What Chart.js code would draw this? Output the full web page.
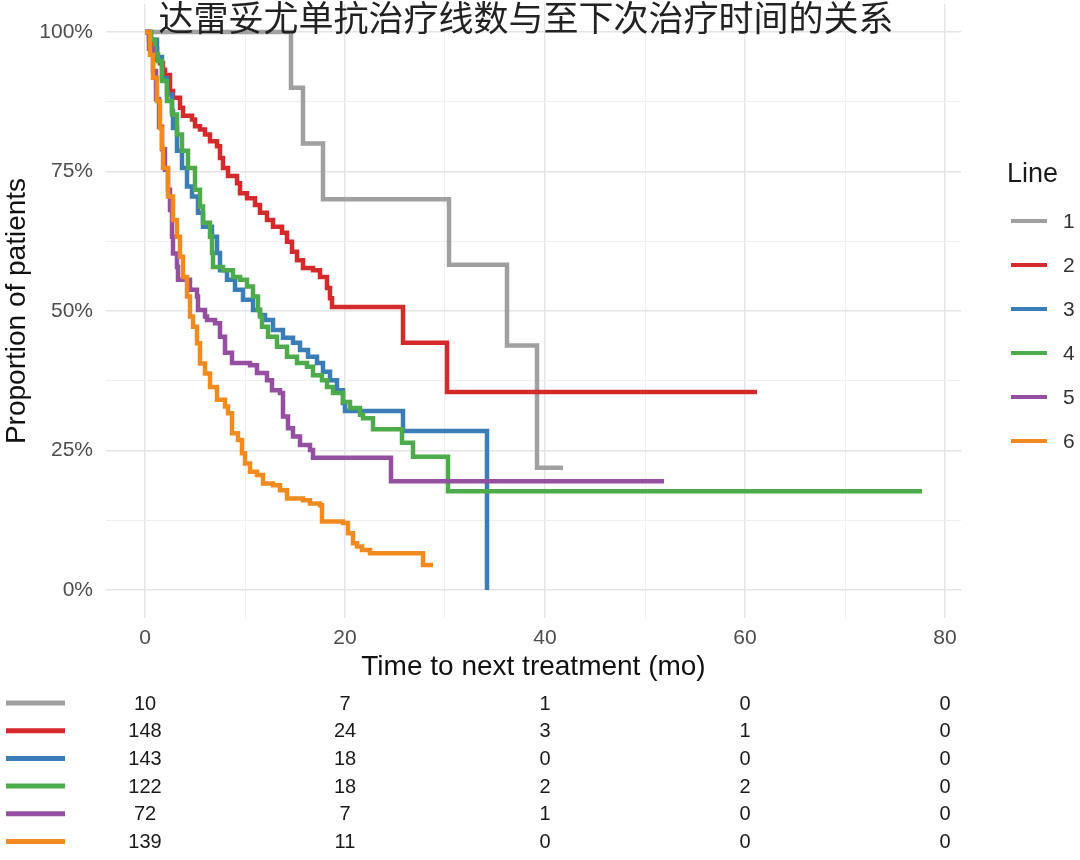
<!DOCTYPE html>
<html>
<head>
<meta charset="utf-8">
<script src="https://cdn.jsdelivr.net/npm/chart.js@4/dist/chart.umd.min.js"></script>
<style>
  html, body { margin: 0; padding: 0; background: #fff; }
  #wrap { width: 1080px; height: 860px; }
</style>
</head>
<body>
<div id="wrap"><canvas id="km" width="1080" height="860"></canvas></div>
<script>
// Kaplan-Meier curves: time (mo) and proportion (%)
const line1Time = [0, 14.6, 15.8, 17.8, 30.4, 36.2, 39.2, 41.8];
const line1Surv = [100, 90, 80, 70, 58.3, 43.8, 21.9, 21.9];

const line2Time = [0, 0.4, 0.8, 1.2, 1.5, 1.8, 2.0, 2.5, 2.8, 3.5, 3.8, 4.7, 5.0, 5.5, 6.0, 6.5, 7.2, 7.5, 7.8, 8.3, 9.2, 9.5, 10.2, 11.0, 11.5, 12.2, 12.8, 13.7, 14.2, 14.7, 15.2, 15.8, 16.8, 17.5, 18.2, 18.5, 18.7, 25.8, 30.2, 61.2];
const line2Surv = [100, 98.6, 97, 95, 94.4, 93.2, 92.3, 89.4, 88.2, 86.4, 85, 84.3, 83.1, 82.5, 81.6, 80.4, 79.5, 77.4, 75.6, 74.2, 72.9, 71.1, 70.2, 69, 67.6, 66.3, 65.1, 64, 62.4, 60.6, 59.1, 57.7, 57.3, 56.1, 54.1, 52.3, 50.7, 44.3, 35.5, 35.5];

const line3Time = [0, 0.6, 1.2, 1.7, 2.2, 2.7, 2.8, 3.2, 3.7, 4.2, 4.7, 5.3, 5.8, 6.7, 7.2, 7.5, 8.2, 9.0, 9.8, 10.8, 11.5, 12.0, 12.8, 13.8, 14.8, 15.5, 16.3, 17.2, 17.8, 18.5, 19.2, 19.8, 20.0, 25.8, 34.2];
const line3Surv = [100, 98.6, 95.5, 91.7, 88.8, 85.8, 82.8, 78.7, 75.6, 72.3, 70.5, 67.6, 65.1, 63.3, 60.4, 57.3, 55.6, 53.8, 52.0, 50.2, 49.3, 48.4, 46.6, 45.2, 44.3, 43.0, 41.8, 40.7, 39.1, 37.6, 35.8, 33.5, 32.1, 28.5, 0];

const line4Time = [0, 0.6, 1.0, 1.3, 1.7, 2.2, 2.7, 3.2, 3.7, 4.3, 5.0, 5.5, 5.8, 6.5, 6.7, 6.8, 7.8, 8.8, 9.5, 10.2, 10.8, 11.3, 11.5, 11.7, 12.3, 13.2, 14.2, 15.2, 16.2, 16.8, 17.7, 18.2, 18.8, 19.8, 20.5, 21.5, 21.8, 22.8, 25.7, 26.8, 30.3, 77.7];
const line4Surv = [100, 98.6, 96, 94.8, 91.2, 87.6, 85.2, 81.6, 78.7, 75.6, 71.7, 68.7, 65.8, 63.3, 60.4, 57.9, 57.3, 56.1, 55.6, 54.4, 52.6, 50.2, 49.0, 47.2, 45.4, 43.6, 41.8, 40.7, 40.0, 38.5, 37.6, 36.4, 35.3, 33.7, 32.6, 31.4, 30.8, 28.8, 26.4, 23.9, 17.7, 17.7];

const line5Time = [0, 0.4, 0.8, 1.1, 1.4, 1.7, 2.0, 2.3, 2.5, 2.7, 2.8, 3.2, 3.3, 4.5, 5.2, 5.3, 6.0, 6.2, 7.0, 7.5, 8.0, 8.7, 10.5, 11.2, 12.2, 12.7, 13.5, 13.8, 14.3, 14.8, 15.5, 16.5, 16.8, 24.6, 51.9];
const line5Surv = [100, 97, 93, 88, 83, 79, 75.3, 71.7, 68.1, 63.3, 60.3, 57.9, 55.6, 53.8, 52.6, 50.2, 49.0, 48.4, 47.8, 45.4, 42.5, 40.7, 40.3, 38.9, 37.6, 35.8, 35.3, 31.1, 29.0, 27.5, 26.0, 25.1, 23.7, 19.5, 19.5];

const line6Time = [0, 0.5, 0.8, 1.2, 1.5, 1.7, 1.8, 2.3, 2.8, 3.2, 3.5, 3.8, 4.2, 4.5, 4.8, 5.2, 5.5, 6.0, 6.5, 7.2, 8.0, 8.3, 8.7, 9.3, 9.7, 10.0, 10.5, 11.2, 11.8, 12.8, 13.5, 14.2, 15.8, 16.5, 17.5, 17.7, 19.8, 20.3, 20.8, 21.2, 21.7, 22.5, 27.8, 28.8];
const line6Surv = [100, 95.9, 91.8, 87.6, 82.8, 79.2, 75.6, 70.5, 66.3, 63.3, 59.7, 56.1, 52.6, 49.0, 47.2, 44.2, 40.6, 38.8, 36.4, 34.1, 32.9, 31.7, 28.1, 26.9, 24.5, 22.7, 21.2, 20.6, 19.1, 18.8, 17.9, 16.4, 16.1, 15.5, 15.2, 12.3, 12.0, 10.2, 8.4, 7.8, 7.2, 6.6, 4.5, 4.5];

const lineNames = ['1', '2', '3', '4', '5', '6'];
const lineColors = ['#A0A0A0', '#D42A2C', '#3B7DB6', '#4EAB4B', '#944FA0', '#F28B1F'];

// number at risk table
const riskTimes = [0, 20, 40, 60, 80];
const risk1 = [10, 7, 1, 0, 0];
const risk2 = [148, 24, 3, 1, 0];
const risk3 = [143, 18, 0, 0, 0];
const risk4 = [122, 18, 2, 2, 0];
const risk5 = [72, 7, 1, 0, 0];
const risk6 = [139, 11, 0, 0, 0];

const xGridValues = [0, 10, 20, 30, 40, 50, 60, 70, 80];
const yGridValues = [0, 12.5, 25, 37.5, 50, 62.5, 75, 87.5, 100];

const titleText = '达雷妥尤单抗治疗线数与至下次治疗时间的关系';

const times = [line1Time, line2Time, line3Time, line4Time, line5Time, line6Time];
const survs = [line1Surv, line2Surv, line3Surv, line4Surv, line5Surv, line6Surv];
const risks = [risk1, risk2, risk3, risk4, risk5, risk6];

const datasets = lineNames.map((name, i) => ({
    label: name,
    data: times[i].map((t, k) => ({ x: t, y: survs[i][k] })),
    borderColor: lineColors[i],
    backgroundColor: lineColors[i],
    borderWidth: 4.5,
    stepped: true,
    pointRadius: 0,
    fill: false,
    order: lineNames.length - i
}));

const sans = '"Liberation Sans", Arial, sans-serif';

// title, legend and risk table
const extras = {
    id: 'extras',
    afterDraw(chart) {
        const ctx = chart.ctx;
        const xs = chart.scales.x;
        ctx.save();

        ctx.fillStyle = '#222';
        ctx.font = '35px "Noto Sans CJK SC"';
        ctx.textAlign = 'center';
        ctx.textBaseline = 'middle';
        ctx.fillText(titleText, 526, 18);

        // legend
        ctx.fillStyle = '#1a1a1a';
        ctx.font = '27px ' + sans;
        ctx.textAlign = 'left';
        ctx.fillText('Line', 1007, 175);
        ctx.font = '21px ' + sans;
        lineNames.forEach((name, i) => {
            const y = 221 + i * 44;
            ctx.strokeStyle = lineColors[i];
            ctx.lineWidth = 4;
            ctx.beginPath();
            ctx.moveTo(1011, y);
            ctx.lineTo(1047, y);
            ctx.stroke();
            ctx.fillStyle = '#333';
            ctx.fillText(name, 1063, y + 1);
        });

        // risk table
        ctx.font = '20px ' + sans;
        ctx.textAlign = 'center';
        risks.forEach((row, i) => {
            const y = 703 + i * 27.7;
            ctx.strokeStyle = lineColors[i];
            ctx.lineWidth = 5;
            ctx.beginPath();
            ctx.moveTo(6, y);
            ctx.lineTo(65, y);
            ctx.stroke();
            ctx.fillStyle = '#1a1a1a';
            row.forEach((n, j) => {
                ctx.fillText(String(n), xs.getPixelForValue(riskTimes[j]), y + 1);
            });
        });
        ctx.restore();
    }
};

new Chart(document.getElementById('km'), {
    type: 'line',
    data: { datasets },
    options: {
        responsive: false,
        animation: false,
        devicePixelRatio: 1,
        layout: { padding: { left: 0, top: 4, right: 119, bottom: 176 } },
        plugins: { legend: { display: false }, tooltip: { enabled: false } },
        scales: {
            x: {
                type: 'linear',
                min: -3.9,
                max: 81.6,
                afterBuildTicks: (s) => { s.ticks = xGridValues.map(v => ({ value: v })); },
                afterFit: (s) => { s.height = 66; s.paddingLeft = 0; s.paddingRight = 0; },
                border: { display: false },
                grid: {
                    drawTicks: false,
                    color: (c) => (c.tick && c.tick.value % 20 === 0) ? '#E4E4E4' : '#EFEFEF',
                    lineWidth: (c) => (c.tick && c.tick.value % 20 === 0) ? 1.4 : 1
                },
                ticks: {
                    autoSkip: false,
                    maxRotation: 0,
                    padding: 8,
                    color: '#4D4D4D',
                    font: { family: sans, size: 21 },
                    callback: (v) => v % 20 === 0 ? String(v) : ''
                },
                title: {
                    display: true,
                    text: 'Time to next treatment (mo)',
                    color: '#111',
                    font: { family: sans, size: 28 },
                    padding: 0
                }
            },
            y: {
                type: 'linear',
                min: -5,
                max: 105,
                afterBuildTicks: (s) => { s.ticks = yGridValues.map(v => ({ value: v })); },
                afterFit: (s) => { s.width = 106; s.paddingTop = 0; s.paddingBottom = 0; },
                border: { display: false },
                grid: {
                    drawTicks: false,
                    color: (c) => (c.tick && c.tick.value % 25 === 0) ? '#E4E4E4' : '#EFEFEF',
                    lineWidth: (c) => (c.tick && c.tick.value % 25 === 0) ? 1.4 : 1
                },
                ticks: {
                    autoSkip: false,
                    padding: 13,
                    color: '#4D4D4D',
                    font: { family: sans, size: 21 },
                    callback: (v) => v % 25 === 0 ? v + '%' : ''
                },
                title: {
                    display: true,
                    text: 'Proportion of patients',
                    color: '#111',
                    font: { family: sans, size: 28 },
                    padding: 0
                }
            }
        }
    },
    plugins: [extras]
});
</script>
</body>
</html>
